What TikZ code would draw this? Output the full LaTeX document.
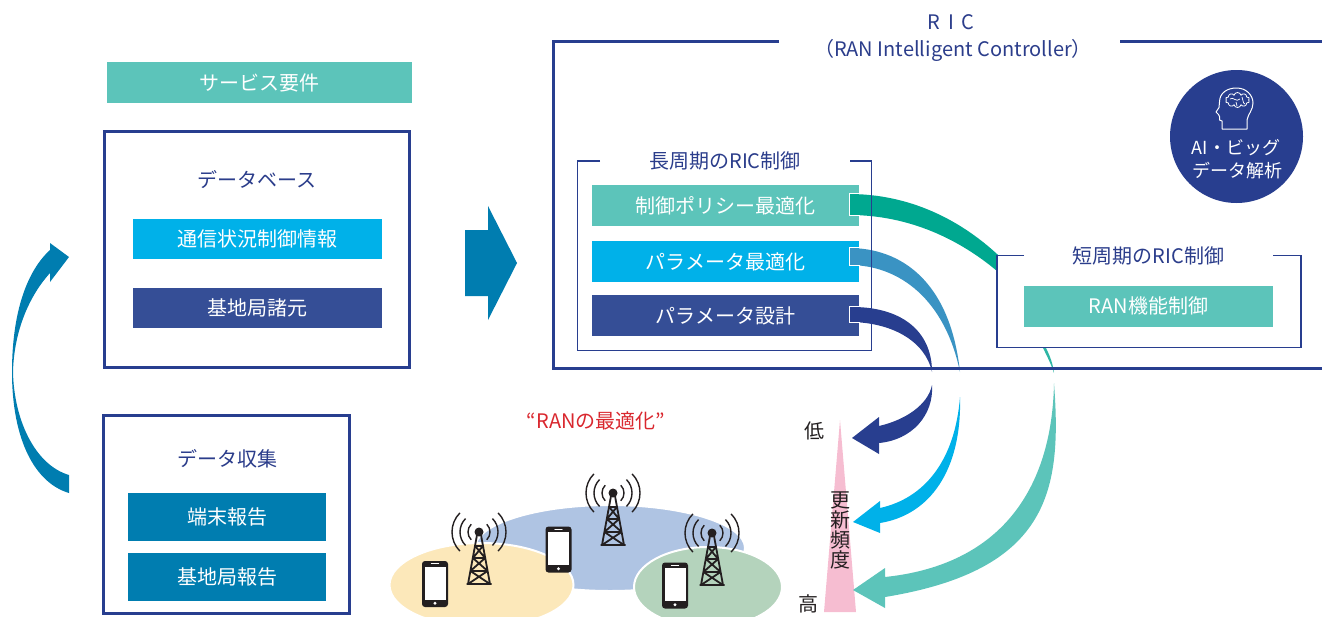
\documentclass[tikz,border=0pt]{standalone}
\usepackage{fontspec}
\setmainfont{Noto Sans CJK JP}
\usetikzlibrary{shapes.symbols}

\definecolor{navy}{HTML}{283E8F}
\definecolor{navytxt}{HTML}{2B3D8B}
\definecolor{teal}{HTML}{5CC4BA}
\definecolor{deepteal}{HTML}{00A890}
\definecolor{cyanb}{HTML}{00B1E9}
\definecolor{steel}{HTML}{3A93C3}
\definecolor{indigo}{HTML}{354E96}
\definecolor{ocean}{HTML}{007DB0}
\definecolor{pinkt}{HTML}{F6BDD1}
\definecolor{redt}{HTML}{D9272E}
\definecolor{sand}{HTML}{FCE8BA}
\definecolor{sky}{HTML}{AFC4E3}
\definecolor{sage}{HTML}{B4D3BC}
\definecolor{ink}{HTML}{231F20}

\newcommand\jpfont[1]{\fontsize{#1}{#1}\selectfont}

\tikzset{
  bar/.style={rectangle, inner sep=0pt, text=white, font=\jpfont{20}},
  frame/.style={rectangle, draw=navy, line width=3pt, fill=white, inner sep=0pt},
  heading/.style={inner sep=0pt, text=navytxt, font=\jpfont{20}},
  bracketline/.style={draw=navy, line width=1.5pt},
  mast/.pic={
    \fill[ink] (0,0) circle (4.5);
    \draw[ink, line width=1.8pt, line join=round]
      (-2,3) -- (-11,52) (2,3) -- (11,52)
      (-12.5,52) -- (12.5,52)
      (-3.9,14) -- (3.9,14)
      (-6.1,26) -- (6.1,26)
      (-8.6,39) -- (8.6,39)
      (-3.9,14) -- (6.1,26) (3.9,14) -- (-6.1,26)
      (-6.1,26) -- (8.6,39) (6.1,26) -- (-8.6,39)
      (-8.6,39) -- (11,52) (8.6,39) -- (-11,52);
    \foreach \r in {11,19,27} {
      \draw[ink, line width=1.4pt] (45:\r) arc[start angle=45, end angle=-45, radius=\r];
      \draw[ink, line width=1.4pt] (135:\r) arc[start angle=135, end angle=225, radius=\r];
    }
  },
  handset/.pic={
    \fill[ink, rounded corners=3pt] (-13,-23) rectangle (13,23);
    \fill[white] (-10.5,-17.5) rectangle (10.5,15.5);
    \draw[white, line width=1.3pt, line cap=round] (-3.5,-20.3) -- (3.5,-20.3);
    \fill[white] (0,19.3) circle (1.6);
  }
}

\begin{document}
\begin{tikzpicture}[x=1pt, y=-1pt]
\useasboundingbox (0,0) rectangle (1322,616);

% radio coverage areas
\fill[sky, draw=white, line width=2pt] (610,548) ellipse [x radius=135, y radius=43];
\fill[sand, draw=white, line width=2pt] (481.5,585) ellipse [x radius=92, y radius=42];
\fill[sage, draw=white, line width=2pt] (708,587) ellipse [x radius=74, y radius=40];

% base stations and terminals
\pic at (479,532) {mast};
\pic at (613,493) {mast};
\pic at (712,533) {mast};
\pic at (435,584) {handset};
\pic at (558.5,549.5) {handset};
\pic at (675,585.5) {handset};

\node[text=redt, font=\jpfont{20}, inner sep=0pt] (ranopt) at (596,421) {“RANの最適化”};

% left column
\node[bar, fill=teal, minimum width=305pt, minimum height=41pt] (svc) at (259.5,82.5) {サービス要件};

\node[frame, minimum width=305pt, minimum height=235.5pt] (db) at (257,249.25) {};
\node[heading] (dbt) at (257,180) {データベース};
\node[bar, fill=cyanb, minimum width=248.4pt, minimum height=40pt] (comm) at (257.5,239.3) {通信状況制御情報};
\node[bar, fill=indigo, minimum width=248.4pt, minimum height=40pt] (spec) at (257.5,308.3) {基地局諸元};

\node[frame, minimum width=246pt, minimum height=198pt] (dc) at (226.5,514.5) {};
\node[heading] (dct) at (227,459) {データ収集};
\node[bar, fill=ocean, minimum width=197.4pt, minimum height=47.4pt] (ue) at (227,517) {端末報告};
\node[bar, fill=ocean, minimum width=197.4pt, minimum height=47.4pt] (bs) at (227,577) {基地局報告};

% feedback arrow from collection to database
\fill[ocean] (69,493) .. controls (35,483) and (12,440) .. (12,372)
  .. controls (12,310) and (28,270) .. (50,250) -- (50,243) -- (69,257) -- (50,282) -- (50,273)
  .. controls (30,295) and (14,330) .. (13,372)
  .. controls (14,420) and (35,465) .. (69,475) -- cycle;

% block arrow into the RIC
\fill[ocean] (465,230) -- (488,230) -- (488,206) -- (517,263) -- (488,320) -- (488,296) -- (465,296) -- cycle;

% long-period control boxes
\node[bar, fill=teal, minimum width=267pt, minimum height=41pt] (policy) at (725.5,205.5) {制御ポリシー最適化};
\node[bar, fill=cyanb, minimum width=267pt, minimum height=41pt] (popt) at (725.5,261.5) {パラメータ最適化};
\node[bar, fill=indigo, minimum width=267pt, minimum height=41pt] (pdes) at (725.5,315.5) {パラメータ設計};

% update frequency scale
\fill[pinkt] (840,420) -- (856,612) -- (824,612) -- cycle;
\node[text=ink, font=\jpfont{20}, inner sep=0pt] (low) at (814,431) {低};
\node[text=ink, font=\jpfont{20}, inner sep=0pt] (high) at (808,604) {高};
\node[text=ink, font=\jpfont{20}, inner sep=0pt, align=center] (freq) at (840,530)
  {\jpfont{20}\baselineskip=21pt 更\\新\\頻\\度};

% bands leaving the long-period boxes
\fill[deepteal] (849,194) .. controls (910,194) and (960,220) .. (997,254) -- (1012,268)
  -- (1012,285) -- (997,271) .. controls (960,240) and (910,215) .. (849,215) -- cycle;
\fill[steel] (849,248) .. controls (900,248) and (950,280) .. (960,372)
  .. controls (945,300) and (900,265) .. (849,265) -- cycle;
\fill[navy] (849,307) .. controls (900,306) and (932,330) .. (932,372)
  .. controls (925,340) and (890,322) .. (849,322) -- cycle;

\draw[white, line width=1.2pt] (859.5,193.5) -| (849.5,215.5) -- (859.5,215.5);
\draw[white, line width=1.2pt] (859.5,247.5) -| (849.5,265.5) -- (859.5,265.5);
\draw[white, line width=1.2pt] (859.5,306.5) -| (849.5,322.5) -- (859.5,322.5);

% short-period control
\fill[white] (997,255.5) rectangle (1301,347.5);
\draw[bracketline] (1024,255.5) -- (997,255.5) -- (997,347.5) -- (1301,347.5) -- (1301,255.5) -- (1273,255.5);
\node[heading] (shortt) at (1148.5,256) {短周期のRIC制御};
\node[bar, fill=teal, minimum width=249pt, minimum height=40.7pt] (ranf) at (1148.5,306.3) {RAN機能制御};

% arrows returning to the radio network
\fill[deepteal!50!teal] (1046,348) .. controls (1050,356) and (1053,364) .. (1054,373)
  .. controls (1051,364) and (1047,356) .. (1043,348) -- cycle;
\fill[teal] (1054,383) .. controls (1062,490) and (1050,570) .. (885,597) -- (885,608) -- (853,590)
  -- (885,568) -- (885,577) .. controls (1000,565) and (1052,490) .. (1054,383) -- cycle;
\fill[cyanb] (960,397) .. controls (962,470) and (930,515) .. (880,523) -- (880,533) -- (853,522)
  -- (880,501) -- (880,508) .. controls (925,498) and (955,460) .. (960,397) -- cycle;
\fill[navy] (932,385) .. controls (934,415) and (912,440) .. (879,443) -- (879,454) -- (852,438)
  -- (879,417) -- (879,426) .. controls (905,420) and (928,405) .. (932,385) -- cycle;

% long-period frame
\draw[bracketline] (600,161) -- (577.5,161) -- (577.5,350.5) -- (871.5,350.5) -- (871.5,161) -- (850,161);
\node[heading] (longt) at (725,161) {長周期のRIC制御};

% RIC frame
\draw[navy, line width=3pt] (779,41.7) -- (553.3,41.7) -- (553.3,368.3) -- (1322,368.3);
\draw[navy, line width=3pt] (1120,41.7) -- (1322,41.7);
\node[heading] (ric) at (951,22) {R\hspace{8pt}I\hspace{8pt}C};
\node[heading] (ricfull) at (953,50) {（RAN Intelligent Controller）};

% AI and big-data analysis badge
\node[circle, fill=navy, minimum size=133pt, inner sep=0pt] (ai) at (1236.5,136.5) {};
\draw[white, line width=1pt, line join=round]
  (1222,129) -- (1222,121) -- (1219.5,120) -- (1219.5,116.5) -- (1218.5,114.5) -- (1216,112)
  -- (1219,107.5) -- (1219.5,102) .. controls (1219.5,93) and (1227,88) .. (1236.5,88)
  .. controls (1246,88) and (1253,95) .. (1253,103) .. controls (1253,110) and (1248,114) .. (1247,120)
  -- (1247,129) -- cycle;
\node[cloud, cloud puffs=10, aspect=1.6, draw=white, line width=0.8pt, minimum width=24pt,
  minimum height=15pt, inner sep=0pt] (brain) at (1237.5,100) {};
\draw[white, line width=0.7pt] (1230,99) .. controls (1233,96) and (1236,103) .. (1240,99)
  (1236,102) -- (1237,106) (1242,97) .. controls (1244,100) and (1242,103) .. (1245,104);
\node[text=white, font=\jpfont{18}, inner sep=0pt] (ait1) at (1236,148) {AI・ビッグ};
\node[text=white, font=\jpfont{18}, inner sep=0pt] (ait2) at (1237,171) {データ解析};

\end{tikzpicture}
\end{document}
